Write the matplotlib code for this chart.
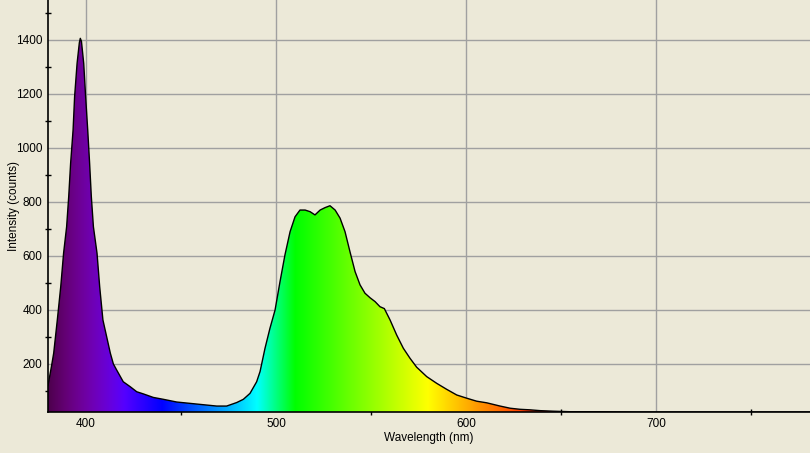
import numpy as np
import matplotlib
matplotlib.use("Agg")
import matplotlib.pyplot as plt
from matplotlib.ticker import MultipleLocator
from matplotlib.patches import Polygon

# ---- data ----
wavelength = [380, 381.8, 383, 384.9, 386.7, 388.2, 389.8, 390.9, 391.9, 393.2,
              394, 395.3, 396.5, 397, 397.6, 398.8, 399.8, 400.9, 401.9, 402.8,
              403.9, 405.8, 407.2, 408.9, 412.8, 414.4, 416.1, 419.6, 423.2, 426.7,
              430.2, 435.4, 440.7, 447.7, 454.7, 461.7, 468.8, 474, 479.3, 482.8,
              486.3, 489.8, 491.6, 494.2, 496.8, 499.5, 502.1, 504.7, 507.4, 510,
              512.6, 515.3, 517.9, 520.5, 523.2, 525.8, 528.4, 531.1, 533.7, 536.3,
              538.9, 541.6, 544.2, 546.8, 549.5, 552.1, 554.7, 557, 560, 563.5,
              567, 570.5, 574, 579.3, 584.6, 589.8, 595.1, 600.4, 605.6, 610.9,
              617.9, 623.2, 628.4, 633.7, 639, 645.8, 655, 670, 690, 720, 750, 781]
intensity = [120, 190, 240, 363, 486, 610, 708, 820, 943, 1067,
             1190, 1313, 1390, 1406, 1395, 1313, 1190, 1067, 943, 820,
             708, 610, 486, 363, 240, 200, 178, 134, 116, 97,
             89, 76, 69, 59, 54, 49, 44, 44, 57, 69,
             91, 134, 172, 258, 332, 400, 505, 604, 690, 745,
             770, 770, 764, 752, 770, 779, 786, 770, 740, 690,
             616, 542, 493, 462, 445, 431, 412, 405, 363, 307,
             258, 221, 188, 153, 128, 106, 85, 73, 62, 56,
             44, 36, 32, 30, 27, 25, 23, 23, 22, 22, 22, 22]

x_min, x_max = 380, 781
y_min, y_max = 22, 1548


def wl_to_rgb(w):
    if w < 440:
        r, g, b = -(w - 440) / 60.0, 0.0, 1.0
    elif w < 490:
        r, g, b = 0.0, (w - 440) / 50.0, 1.0
    elif w < 510:
        r, g, b = 0.0, 1.0, -(w - 510) / 20.0
    elif w < 580:
        r, g, b = (w - 510) / 70.0, 1.0, 0.0
    elif w < 645:
        r, g, b = 1.0, -(w - 645) / 65.0, 0.0
    else:
        r, g, b = 1.0, 0.0, 0.0
    if w < 420:
        f = 0.3 + 0.7 * (w - 380) / 40.0
    elif w > 700:
        f = 0.3 + 0.7 * (780 - w) / 80.0
    else:
        f = 1.0
    f = max(f, 0.3)
    return (r * f, g * f, b * f)


plt.rcParams['font.family'] = ['Liberation Sans', 'DejaVu Sans']

bg = "#ECE9D8"
fig = plt.figure(figsize=(8.1, 4.53), dpi=100, facecolor=bg)
ax = fig.add_axes([48 / 810, 41 / 453, 1 - 48 / 810, 1 - 41 / 453])
ax.set_facecolor(bg)

# gradient fill clipped to the spectrum
gx = np.linspace(x_min, x_max, 800)
grad = np.array([[wl_to_rgb(w) for w in gx]])
img = ax.imshow(grad, extent=[x_min, x_max, y_min, y_max], aspect="auto",
                origin="lower", zorder=2, interpolation="bilinear")
verts = [(wavelength[0], y_min)] + list(zip(wavelength, intensity)) + [(wavelength[-1], y_min)]
poly = Polygon(verts, closed=True, facecolor="none", edgecolor="none")
ax.add_patch(poly)
img.set_clip_path(poly)
ax.plot(wavelength, intensity, color="black", lw=1.0, zorder=3)

ax.set_xlim(x_min, x_max)
ax.set_ylim(y_min, y_max)
ax.xaxis.set_major_locator(MultipleLocator(100))
ax.xaxis.set_minor_locator(MultipleLocator(50))
ax.yaxis.set_major_locator(MultipleLocator(200))
ax.yaxis.set_minor_locator(MultipleLocator(100))
ax.grid(True, which="major", color="#a0a0a0", lw=1.0, zorder=1)
ax.set_axisbelow(True)
ax.tick_params(which="major", length=0, labelsize=8.5, pad=4, colors="black")
ax.tick_params(which="minor", length=5, direction="inout", width=1, colors="black")
for s in ("top", "right"):
    ax.spines[s].set_visible(False)
for s in ("left", "bottom"):
    ax.spines[s].set_linewidth(1.2)
    ax.spines[s].set_zorder(4)

ax.set_xlabel("Wavelength (nm)", fontsize=8.5)
ax.set_ylabel("Intensity (counts)", fontsize=8.5)
ax.xaxis.set_label_coords(0.5, -(438 - 412) / 412)
ax.xaxis.label.set_va("center")
ax.yaxis.set_label_coords(-(48 - 14) / 762, 0.5)
ax.yaxis.label.set_va("center")

fig.savefig("out.png", dpi=100, facecolor=bg)
